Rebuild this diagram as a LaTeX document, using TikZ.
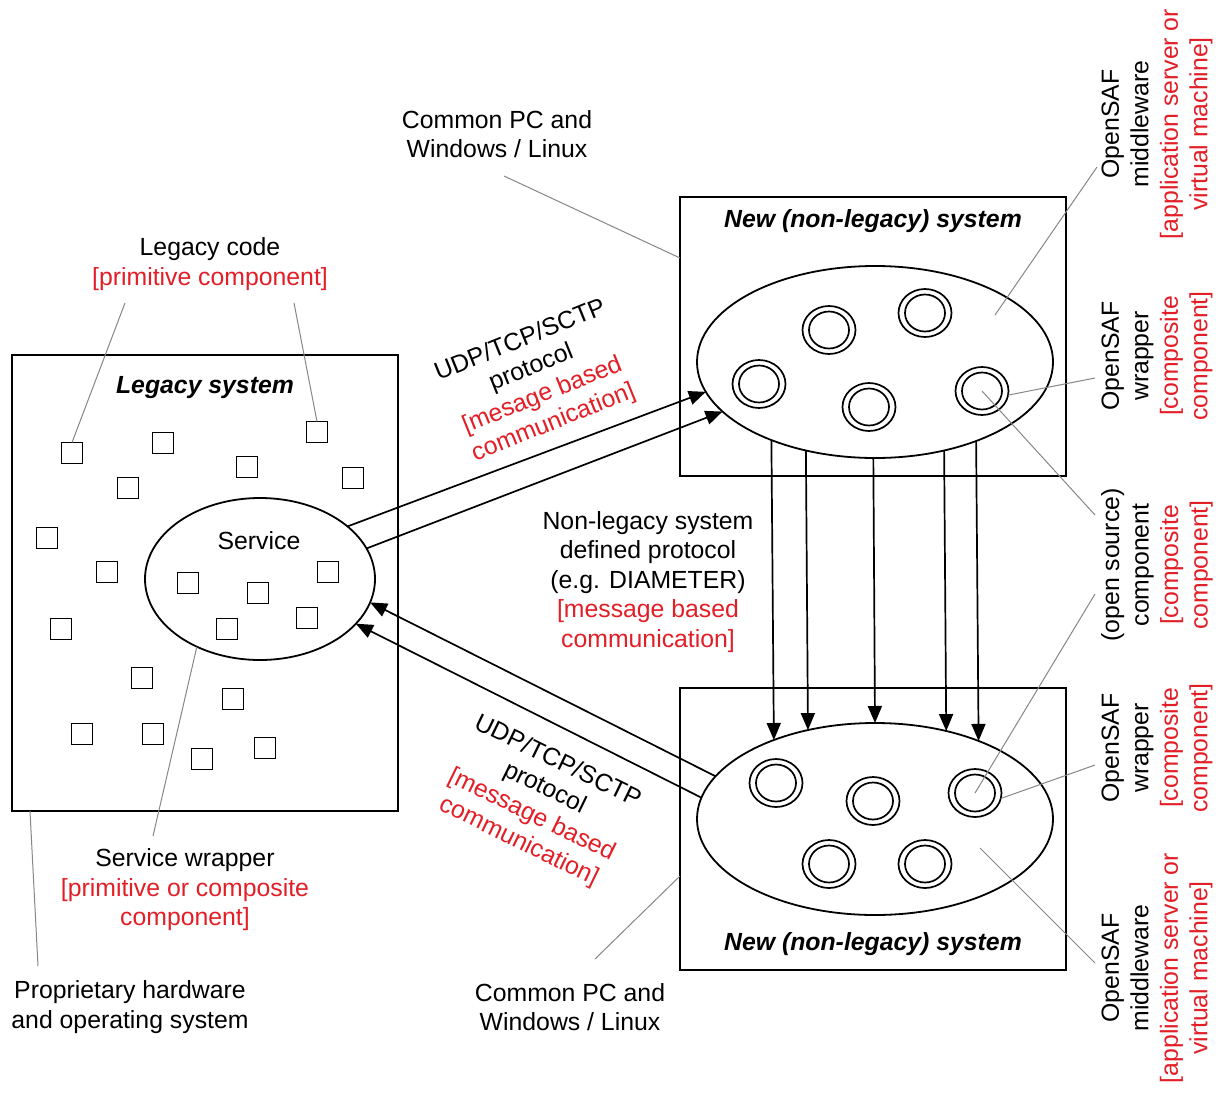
\documentclass[tikz,border=0pt]{standalone}
\usepackage{fontspec}
\setmainfont{Liberation Sans}
\usetikzlibrary{arrows.meta,shapes.geometric,calc}
\definecolor{lblred}{RGB}{226,30,38}
\definecolor{leadgray}{RGB}{135,135,135}
\begin{document}
\begin{tikzpicture}[x=1pt,y=-1pt,
  every node/.style={font=\fontsize{24.8}{29.5}\selectfont, inner sep=0pt, outer sep=0pt},
  box/.style={draw, line width=1.8pt, rectangle},
  sq/.style={draw, line width=1.6pt, rectangle, minimum size=21pt},
  bigell/.style={draw, ellipse, line width=1.8pt},
  ring/.style={draw, ellipse, line width=1.7pt, minimum width=53pt, minimum height=48pt},
  core/.style={draw, ellipse, line width=1.7pt, minimum width=40pt, minimum height=37pt},
  arr/.style={line width=1.7pt, -{Triangle[length=17pt,width=14pt]}},
  lead/.style={draw=leadgray, line width=1pt},
  lbl/.style={align=center},
  titletext/.style={font=\fontsize{24.8}{29}\selectfont\bfseries\itshape, anchor=base}
]
\useasboundingbox[fill=white] (0,0) rectangle (1223,1095);

% ---------- Legacy system ----------
\node[box, minimum width=386pt, minimum height=456pt] (legacy) at (205,583) {};
\node[titletext] (legtitle) at (205,393) {Legacy system};
\node[bigell, minimum width=230pt, minimum height=162pt] (svc) at (260,579) {};
\node (svctext) at (259,541) {Service};

\foreach \n/\px/\py in {1/72/453, 2/163/443, 3/317/432, 4/247/467, 5/128/488, 6/353/478,
  7/47/538, 8/107/572, 9/188/583, 10/258/593, 11/328/572, 12/61/629, 13/227/629,
  14/307/618, 15/142/678, 16/233/699, 17/82/734, 18/153/734, 19/202/759, 20/265/748}
  \node[sq] (sq\n) at (\px,\py) {};

% ---------- New systems ----------
\node[box, minimum width=386pt, minimum height=279pt] (newtop) at (873,336.5) {};
\node[titletext] (ntitle) at (873,227) {New (non-legacy) system};
\node[bigell, minimum width=356pt, minimum height=192pt] (ntE) at (875,362) {};

\node[box, minimum width=386pt, minimum height=282pt] (newbot) at (873,829) {};
\node[titletext] (nbtitle) at (873,950) {New (non-legacy) system};
\node[bigell, minimum width=356pt, minimum height=192pt] (nbE) at (875,819) {};

\foreach \n/\px/\py in {1/759/384, 2/829/330, 3/925/313, 4/869/407, 5/982/391}{
  \node[ring] (t\n o) at (\px,\py) {};
  \node[core] (t\n i) at (\px,\py) {};
}
\foreach \n/\px/\py in {1/776/783, 2/873/801, 3/975/793, 4/829/864, 5/925/864}{
  \node[ring] (b\n o) at (\px,\py) {};
  \node[core] (b\n i) at (\px,\py) {};
}

% ---------- Arrows ----------
\draw[arr] (svc.31) -- (ntE.190);
\draw[arr] (svc.16) -- (ntE.198);
\draw[arr] (nbE.165) -- (svc.-12);
\draw[arr] (nbE.173) -- (svc.-25);

\draw[arr] (ntE.217.65) -- (nbE.142.35);
\draw[arr] (ntE.232.06) -- (nbE.127.94);
\draw[arr] (ntE.269.3) -- (nbE.90.7);
\draw[arr] (ntE.308.44) -- (nbE.51.56);
\draw[arr] (ntE.322.76) -- (nbE.37.24);

% ---------- Labels ----------
\node[lbl] (lcode) at (210,264) {Legacy code\\\textcolor{lblred}{[primitive component]}};
\node[lbl] (swrap) at (185,890) {Service wrapper\\\textcolor{lblred}{[primitive or composite}\\\textcolor{lblred}{component]}};
\node[lbl] (prop) at (130,1007) {Proprietary hardware\\and operating system};
\node[lbl] (cpTop) at (497,134) {Common PC and\\Windows / Linux};
\node[lbl] (cpBot) at (570,1007) {Common PC and\\Windows / Linux};
\node[lbl] (nlproto) at (648,582) {Non-legacy system\\defined protocol\\(e.g. DIAMETER)\\\textcolor{lblred}{[message based}\\\textcolor{lblred}{communication]}};
\node[lbl, rotate=22] (udpTop) at (537,382) {UDP/TCP/SCTP\\protocol\\\textcolor{lblred}{[mesage based}\\\textcolor{lblred}{communication]}};
\node[lbl, rotate=-26] (udpBot) at (538,802) {UDP/TCP/SCTP\\protocol\\\textcolor{lblred}{[message based}\\\textcolor{lblred}{communication]}};

\node[lbl, rotate=90] (mwTop) at (1157,124) {OpenSAF\\middleware\\\textcolor{lblred}{[application server or}\\\textcolor{lblred}{virtual machine]}};
\node[lbl, rotate=90] (wrTop) at (1157,356) {OpenSAF\\wrapper\\\textcolor{lblred}{[composite}\\\textcolor{lblred}{component]}};
\node[lbl, rotate=90] (osc) at (1157,565) {(open source)\\component\\\textcolor{lblred}{[composite}\\\textcolor{lblred}{component]}};
\node[lbl, rotate=90] (wrBot) at (1157,748) {OpenSAF\\wrapper\\\textcolor{lblred}{[composite}\\\textcolor{lblred}{component]}};
\node[lbl, rotate=90] (mwBot) at (1157,968) {OpenSAF\\middleware\\\textcolor{lblred}{[application server or}\\\textcolor{lblred}{virtual machine]}};

% ---------- Leader lines ----------
\coordinate (lcA) at (125,303);
\coordinate (lcB) at (294,303);
\draw[lead] (lcA) -- (sq1.north);
\draw[lead] (lcB) -- (sq3.north);

\coordinate (swA) at (153,836);
\draw[lead] (swA) -- (svc.227.6);

\coordinate (phA) at (38,966);
\draw[lead] (phA) -- ($(legacy.south west)+(18,0)$);

\coordinate (cpA) at (504,176);
\draw[lead] (cpA) -- ($(newtop.north west)+(0,61)$);
\coordinate (cpB) at (595,959);
\draw[lead] (cpB) -- ($(newbot.north west)+(0,188)$);

\coordinate (mwA) at (995,315);
\coordinate (mwB) at (1097,167);
\draw[lead] (mwA) -- (mwB);

\coordinate (wtB) at (1095,378);
\draw[lead] (t5o.-9) -- (wtB);

\coordinate (osB1) at (1095,515);
\coordinate (osB2) at (1095,594);
\draw[lead] (t5i.center) -- (osB1);
\draw[lead] (b3i.center) -- (osB2);

\coordinate (wbB) at (1095,765);
\draw[lead] (b3o.-12) -- (wbB);

\coordinate (bmA) at (980,848);
\coordinate (bmB) at (1095,963);
\draw[lead] (bmA) -- (bmB);
\end{tikzpicture}
\end{document}
